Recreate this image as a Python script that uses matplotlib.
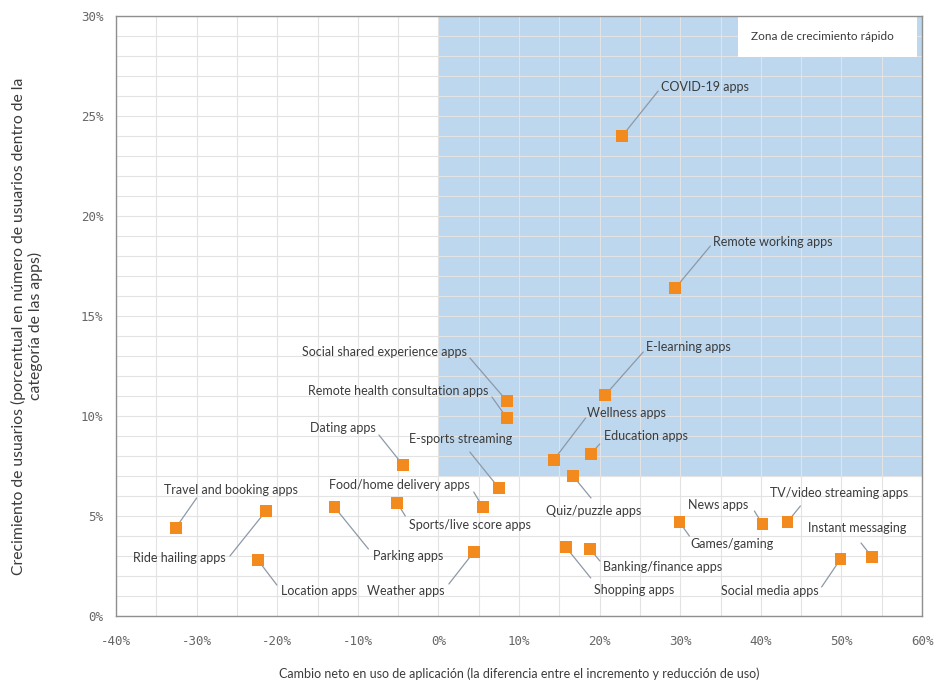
import matplotlib
matplotlib.use("Agg")
import matplotlib.pyplot as plt
from matplotlib.patches import Rectangle
from matplotlib.ticker import MultipleLocator, FuncFormatter

# App categories with net change in usage (x, %) and user growth (y, %)
apps = [
    "COVID-19 apps", "Remote working apps", "E-learning apps",
    "Social shared experience apps", "Remote health consultation apps",
    "Dating apps", "E-sports streaming", "Food/home delivery apps",
    "Sports/live score apps", "Travel and booking apps", "Ride hailing apps",
    "Location apps", "Parking apps", "Weather apps", "Shopping apps",
    "Banking/finance apps", "Games/gaming", "News apps",
    "TV/video streaming apps", "Instant messaging", "Social media apps",
    "Wellness apps", "Education apps", "Quiz/puzzle apps",
]
net_change = [22.8, 29.4, 20.7, 8.5, 8.5, -4.4, 7.5, 5.5, -5.1, -32.6, -21.4,
              -22.4, -12.9, 4.4, 15.8, 18.8, 29.9, 40.2, 43.3, 53.8, 49.9,
              14.3, 18.9, 16.7]
user_growth = [24.0, 16.4, 11.05, 10.75, 9.9, 7.55, 6.4, 5.45, 5.65, 4.4, 5.25,
               2.8, 5.45, 3.2, 3.45, 3.35, 4.7, 4.6, 4.7, 2.95, 2.85,
               7.8, 8.1, 7.0]

x_ticks = [-40, -30, -20, -10, 0, 10, 20, 30, 40, 50, 60]
y_ticks = [0, 5, 10, 15, 20, 25, 30]
zone_label = "Zona de crecimiento rápido"
x_title = ("Cambio neto en uso de aplicación (la diferencia entre el "
           "incremento y reducción de uso)")
y_title = ("Crecimiento de usuarios (porcentual en número de usuarios dentro de la\n"
           "categoría de las apps)")

# Label placement: (text dx, text dy, ha, leader dx, leader dy) in pixels
label_layout = {
    "COVID-19 apps": (39, 49, "left", 36, 45),
    "Remote working apps": (38, 46, "left", 35, 42),
    "E-learning apps": (41, 48, "left", 38, 43),
    "Social shared experience apps": (-40, 49, "right", -37, 43),
    "Remote health consultation apps": (-19, 27, "right", -15, 21),
    "Dating apps": (-27, 37, "right", -24, 30),
    "E-sports streaming": (-38, 49, "center", -29, 36),
    "Food/home delivery apps": (-13, 22, "right", -9, 15),
    "Sports/live score apps": (12, -22, "left", 8, -13),
    "Travel and booking apps": (-12, 38, "left", 21, 30),
    "Ride hailing apps": (-40, -47, "right", -36, -45),
    "Location apps": (23, -31, "left", 19, -25),
    "Parking apps": (39, -49, "left", 34, -42),
    "Weather apps": (-29, -39, "right", -25, -32),
    "Shopping apps": (28, -43, "left", 25, -31),
    "Banking/finance apps": (13, -18, "left", 10, -12),
    "Games/gaming": (11, -22, "left", 10, -14),
    "News apps": (-14, 19, "right", -8, 13),
    "TV/video streaming apps": (-17, 29, "left", 13, 16),
    "Instant messaging": (-64, 29, "left", -11, 14),
    "Social media apps": (-22, -32, "right", -19, -28),
    "Wellness apps": (33, 47, "left", 32, 42),
    "Education apps": (13, 18, "left", 9, 10),
    "Quiz/puzzle apps": (-27, -35, "left", 18, -22),
}

ORANGE = "#F28A1E"
BLUE = "#BDD7EE"
TEXT = "#3b3b3b"
LEADER = "#8c99a6"
FONT = "Lato"

fig = plt.figure(figsize=(9.36, 6.8), dpi=100)
ax = fig.add_axes([116 / 936, 1 - 616 / 680, 806 / 936, 600 / 680])
ax.set_xlim(-40, 60)
ax.set_ylim(0, 30)

# Fast-growth zone
ax.add_patch(Rectangle((0, 7), 60, 23, facecolor=BLUE, edgecolor="none", zorder=0))

ax.xaxis.set_minor_locator(MultipleLocator(5))
ax.yaxis.set_minor_locator(MultipleLocator(1))
ax.set_xticks(x_ticks)
ax.set_yticks(y_ticks)
ax.grid(which="both", color="#e3e3e3", linewidth=0.8, zorder=1)
ax.set_axisbelow(False)
for gl in ax.get_xgridlines() + ax.get_ygridlines():
    gl.set_zorder(1)

pct = FuncFormatter(lambda v, _: f"{v:.0f}%")
ax.xaxis.set_major_formatter(pct)
ax.yaxis.set_major_formatter(pct)
ax.tick_params(which="both", length=0)
ax.tick_params(axis="x", pad=14)
ax.tick_params(axis="y", pad=9)
for lbl in ax.get_xticklabels() + ax.get_yticklabels():
    lbl.set_fontfamily("DejaVu Sans Mono")
    lbl.set_fontsize(9)
    lbl.set_color("#666666")

for sp in ax.spines.values():
    sp.set_color("#8f8f8f")
    sp.set_linewidth(1.0)
    sp.set_zorder(5)

# Leader lines and labels
for name, x, y in zip(apps, net_change, user_growth):
    tdx, tdy, ha, ldx, ldy = label_layout[name]
    ax.annotate("", xy=(x, y), xytext=(ldx, ldy), textcoords="offset pixels",
                arrowprops=dict(arrowstyle="-", color=LEADER, lw=0.9,
                                shrinkA=0, shrinkB=0), zorder=3)
    ax.annotate(name, xy=(x, y), xytext=(tdx, tdy), textcoords="offset pixels",
                ha=ha, va="center", fontsize=9, color=TEXT, family=FONT,
                zorder=4)

ax.scatter(net_change, user_growth, marker="s", s=72, color=ORANGE,
           edgecolors="none", zorder=6)

# Zone caption box
ax.add_patch(Rectangle((0.7717, 0.932), 0.222, 0.066, transform=ax.transAxes,
                       facecolor="white", edgecolor="none", zorder=4))
ax.text(0.877, 0.966, zone_label, transform=ax.transAxes, ha="center",
        va="center", fontsize=8.5, color=TEXT, family=FONT, zorder=5)

ax.set_xlabel(x_title, fontsize=9, color=TEXT, family=FONT, labelpad=14)
fig.text(27 / 936, 1 - 326 / 680, y_title, rotation=90, ha="center",
         va="center", multialignment="center", fontsize=11.3, color=TEXT,
         family=FONT, linespacing=1.15)

fig.savefig("out.png", dpi=100)
